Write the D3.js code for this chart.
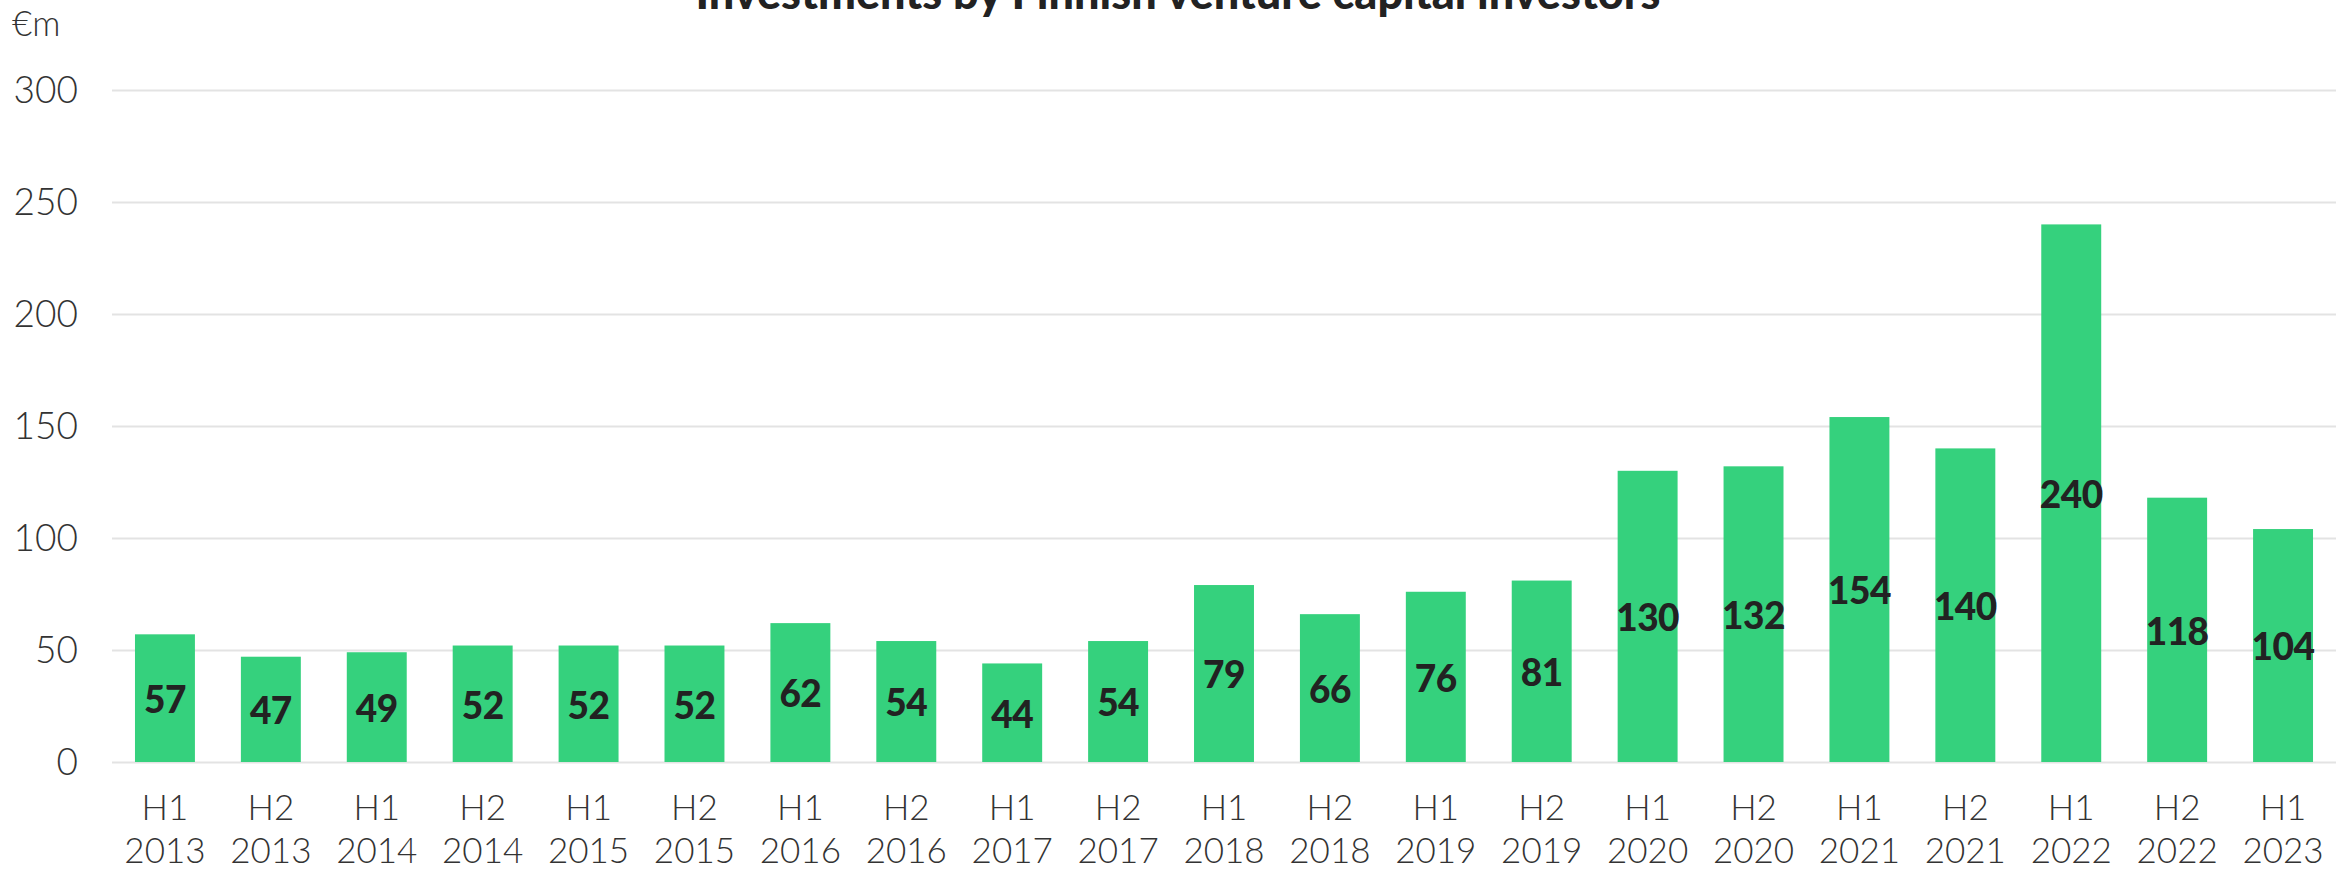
<!DOCTYPE html>
<html>
<head>
<meta charset="utf-8">
<script src="https://cdn.jsdelivr.net/npm/d3@7"></script>
<style>
    body { margin: 0; background: #fff; }
    svg text { font-family: Lato, "Open Sans", sans-serif; }
</style>
</head>
<body>
<div id="wrapper"></div>
<script>
// data
var periods = ['H1', 'H2', 'H1', 'H2', 'H1', 'H2', 'H1', 'H2', 'H1', 'H2', 'H1',
               'H2', 'H1', 'H2', 'H1', 'H2', 'H1', 'H2', 'H1', 'H2', 'H1'];
var years = ['2013', '2013', '2014', '2014', '2015', '2015', '2016', '2016', '2017', '2017', '2018',
             '2018', '2019', '2019', '2020', '2020', '2021', '2021', '2022', '2022', '2023'];
var investments = [57, 47, 49, 52, 52, 52, 62, 54, 44, 54, 79, 66, 76, 81, 130, 132, 154, 140, 240, 118, 104];
var yTicks = [0, 50, 100, 150, 200, 250, 300];

var titleText = 'Investments by Finnish venture capital investors';
var unitText = '€m';

function draw() {
    var width = 2348, height = 869;
    var margin = { top: 90, right: 12, bottom: 107, left: 112 };

    var data = investments.map(function(v, i) {
        return { key: i, period: periods[i], year: years[i], value: v };
    });

    var svg = d3.select('#wrapper').append('svg')
        .attr('width', width)
        .attr('height', height);

    var x = d3.scaleBand()
        .domain(data.map(function(d) { return d.key; }))
        .range([margin.left, width - margin.right])
        .paddingInner(0.434)
        .paddingOuter(0.217);

    var y = d3.scaleLinear()
        .domain([0, 300])
        .range([height - margin.bottom, margin.top]);

    // grid + y labels
    var yAxis = d3.axisLeft(y)
        .tickValues(yTicks)
        .tickSize(-(width - margin.left - margin.right))
        .tickPadding(34);

    svg.append('g')
        .attr('class', 'y axis')
        .attr('transform', 'translate(' + margin.left + ',0)')
        .call(yAxis)
        .call(function(g) {
            g.select('.domain').remove();
            g.selectAll('.tick line').attr('stroke', '#e3e3e3').attr('stroke-width', 2);
            g.selectAll('.tick text')
                .attr('fill', '#333')
                .attr('font-size', 37)
                .attr('font-weight', 300)
                .attr('dy', '0.35em');
        });

    // bars
    svg.append('g').selectAll('rect')
        .data(data)
        .enter().append('rect')
        .attr('x', function(d) { return x(d.key); })
        .attr('y', function(d) { return y(d.value); })
        .attr('width', x.bandwidth())
        .attr('height', function(d) { return y(0) - y(d.value); })
        .attr('fill', '#35d17d');

    // value labels, centred in the bar
    svg.append('g').selectAll('text')
        .data(data)
        .enter().append('text')
        .attr('x', function(d) { return x(d.key) + x.bandwidth() / 2; })
        .attr('y', function(d) { return (y(d.value) + y(0)) / 2; })
        .attr('dy', '0.4em')
        .attr('text-anchor', 'middle')
        .attr('font-size', 37)
        .attr('font-weight', 900)
        .attr('letter-spacing', -0.5)
        .attr('fill', '#222')
        .text(function(d) { return d.value; });

    // x labels, two lines
    var xl = svg.append('g').selectAll('text')
        .data(data)
        .enter().append('text')
        .attr('text-anchor', 'middle')
        .attr('font-size', 35)
        .attr('font-weight', 300)
        .attr('fill', '#333');
    xl.append('tspan')
        .attr('x', function(d) { return x(d.key) + x.bandwidth() / 2; })
        .attr('y', 820)
        .text(function(d) { return d.period; });
    xl.append('tspan')
        .attr('x', function(d) { return x(d.key) + x.bandwidth() / 2; })
        .attr('y', 863)
        .text(function(d) { return d.year; });

    // unit + title
    svg.append('text')
        .attr('x', 12)
        .attr('y', 36)
        .attr('font-size', 35)
        .attr('font-weight', 300)
        .attr('fill', '#333')
        .text(unitText);

    svg.append('text')
        .attr('x', 1178)
        .attr('y', 9)
        .attr('text-anchor', 'middle')
        .attr('font-size', 45)
        .attr('font-weight', 900)
        .attr('fill', '#222')
        .text(titleText);
}

draw();
</script>
</body>
</html>
